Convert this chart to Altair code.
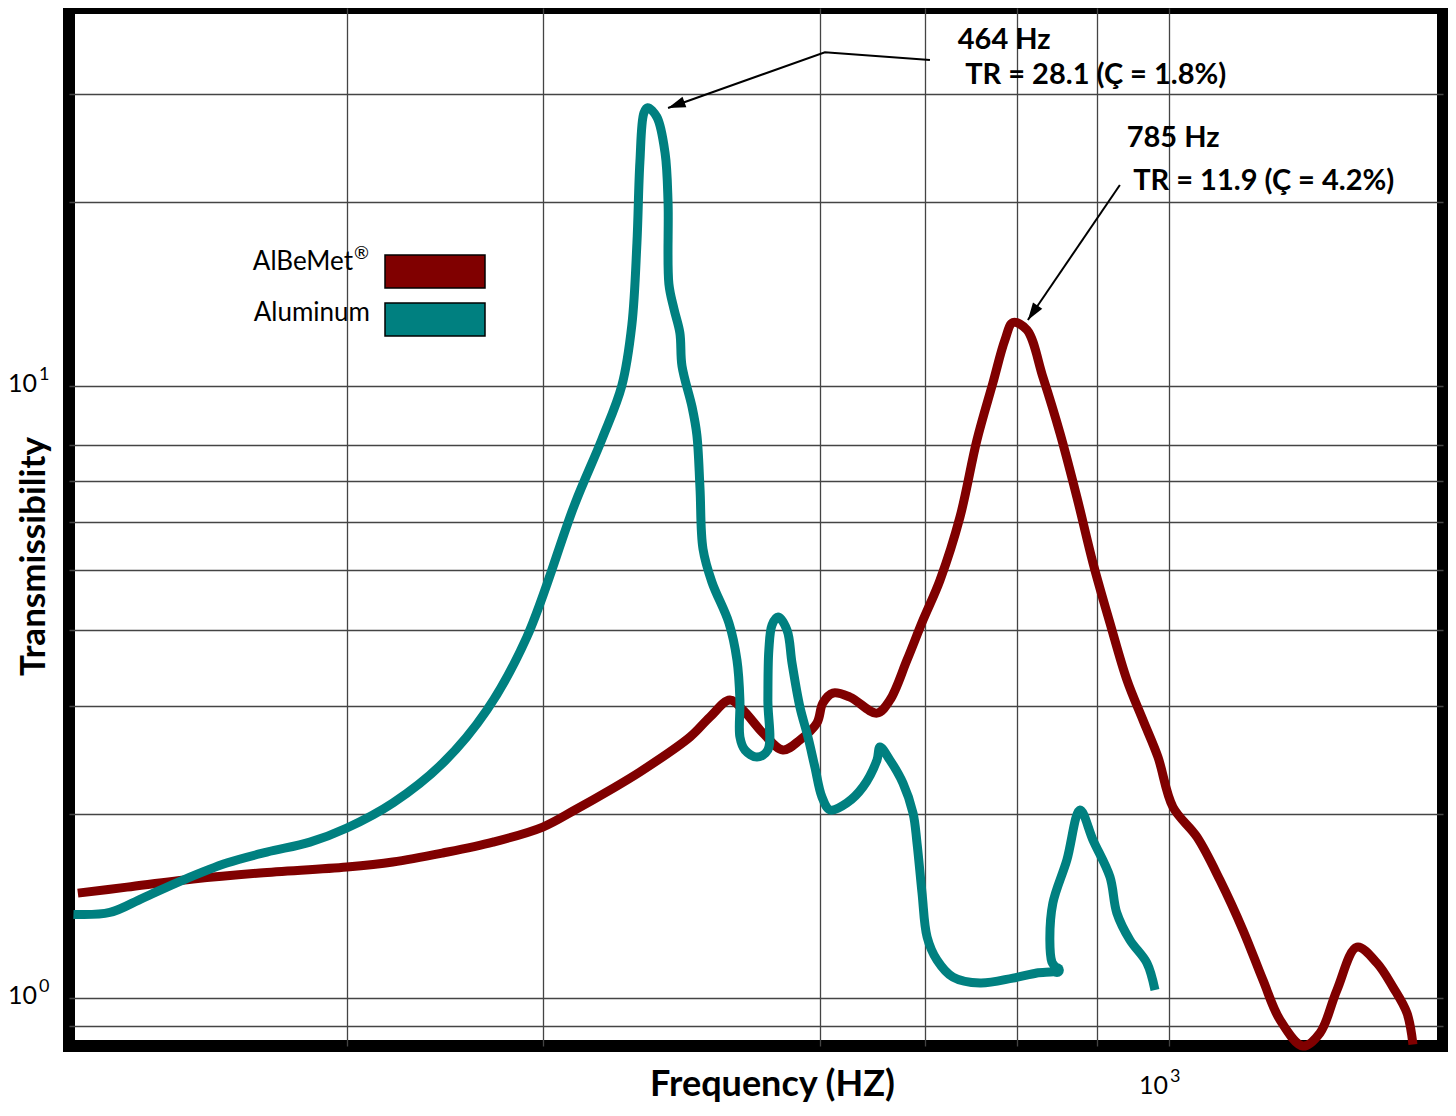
import altair as alt
import pandas as pd

# ---------------- data ----------------
# Aluminum (teal) curve, in drawing order (the curve loops back on itself)
alum_freq = [201, 212, 222.5, 236, 251.6, 266.8, 284.2, 300, 320.9, 345.3, 368.3, 390.5,
             418.9, 435.9, 448.7, 455.4, 458.8, 460.8, 463.5, 466, 472.4, 478.1, 480.2,
             480.8, 484.4, 488.6, 490.1, 497.4, 500.9, 503.2, 505.4, 512.1, 525.0, 531.2,
             533.5, 533.5, 537.4, 547.0, 555.8, 555.8, 556.6, 559.2, 564.1, 571.6, 575.8,
             582.5, 589.4, 595.4, 601.6, 608.7, 623.9, 638.8, 652.1, 655.0, 664.6, 677.4,
             687.5, 691.5, 696.6, 701.8, 712.0, 728.9, 758.3, 795.8, 824.1, 848.8, 842.5,
             840.0, 843.7, 861.2, 877.9, 894.8, 917.3, 926.6, 944.5, 968.3, 979.8]
alum_tr = [1.37, 1.38, 1.457, 1.559, 1.662, 1.732, 1.798, 1.896, 2.083, 2.421, 2.955, 3.89,
           6.415, 8.19, 10.0, 12.58, 17.13, 23.23, 27.93, 28.5, 27.51, 24.03, 19.98,
           14.68, 13.36, 12.21, 10.78, 9.24, 8.32, 6.81, 5.42, 4.78, 4.10, 3.567,
           3.068, 2.670, 2.543, 2.476, 2.543, 3.068, 3.704, 4.07, 4.194, 3.993, 3.527,
           2.989, 2.670, 2.385, 2.131, 2.029, 2.083, 2.212, 2.448, 2.572, 2.448, 2.245,
           2.005, 1.791, 1.484, 1.258, 1.154, 1.082, 1.058, 1.078, 1.099, 1.111, 1.145,
           1.244, 1.429, 1.681, 2.029, 1.812, 1.577, 1.377, 1.244, 1.141, 1.031]
alum_dot_freq = [848.8]
alum_dot_tr = [1.111]

# AlBeMet (dark red) curve
albemet_freq = [202.3, 217.4, 239.5, 264.1, 300, 320.9, 345.3, 371.6, 399.7, 418.9, 441.0,
                460.8, 495.9, 510.6, 525.7, 535.9, 551.8, 568.2, 582.5, 597.2, 602.4, 611.3,
                626.8, 652.1, 664.6, 681.4, 697.6, 715.2, 736.4, 754.9, 772.7, 786.5, 795.8,
                812.3, 831.5, 852.5, 873.9, 894.8, 917.3, 940.4, 962.7, 984.1, 1005.9, 1042.0,
                1077.6, 1114.6, 1147.7, 1176.7, 1216.9, 1247.7, 1279.1, 1317.1, 1356.2,
                1388.4, 1417.2, 1429.7]
albemet_tr = [1.484, 1.518, 1.565, 1.601, 1.637, 1.668, 1.726, 1.798, 1.903, 2.029, 2.187,
              2.341, 2.670, 2.879, 3.068, 2.955, 2.710, 2.543, 2.640, 2.814, 3.034, 3.150,
              3.103, 2.921, 3.068, 3.567, 4.146, 4.819, 6.109, 8.16, 10.11, 11.89, 12.7,
              12.35, 10.34, 8.38, 6.585, 5.138, 4.10, 3.308, 2.846, 2.476, 2.052, 1.833,
              1.559, 1.291, 1.070, 0.921, 0.835, 0.877, 1.031, 1.211, 1.141, 1.042,
              0.945, 0.84]

# grid lines / tick values
x_grid = [300, 400, 600, 700, 800, 900, 1000]
y_grid = [0.9, 1, 2, 3, 4, 5, 6, 7, 8, 10, 20, 30]

# tick labels (base and exponent)
y_label_vals = [1, 10]
y_label_base = ["10", "10"]
y_label_exp = ["0", "1"]
x_label_vals = [1000]
x_label_base = ["10"]
x_label_exp = ["3"]

# annotations
ann_labels = ["464 Hz", "TR = 28.1 (Ç = 1.8%)", "785 Hz", "TR = 11.9 (Ç = 4.2%)"]
ann_freq = [734, 742, 940, 949]
ann_tr = [36.8, 32.2, 25.4, 21.6]

arrow1_freq = [704.7, 604.2, 480.2]
arrow1_tr = [34.1, 35.1, 28.46]
arrow2_freq = [930.7, 813.4]
arrow2_tr = [21.3, 12.82]

legend_labels = ["AlBeMet", "Aluminum"]
legend_marks = ["®", ""]
legend_colors = ["#800000", "#008080"]

# ---------------- chart ----------------
FONT = "Lato"
RED = "#800000"
TEAL = "#008080"
X_DOMAIN = [199.7, 1494]
Y_DOMAIN = [0.835, 41.46]
H = 1038

x_axis = alt.Axis(
    values=x_grid, grid=True, ticks=False, domain=False, labels=False,
    gridColor="#444", gridWidth=1.3,
    title="Frequency (HZ)", titleFont=FONT, titleFontSize=36, titleFontWeight="bold",
    titleColor="black", titleX=703, titleY=49, titleAlign="center",
    titleBaseline="alphabetic",
)
y_axis = alt.Axis(
    values=y_grid, grid=True, ticks=False, domain=False, labels=False,
    gridColor="#444", gridWidth=1.3,
    title="Transmissibility", titleFont=FONT, titleFontSize=35, titleFontWeight="bold",
    titleColor="black", titleX=-36, titleY=548, titleAngle=270, titleAlign="center",
    titleBaseline="middle",
)


def xenc():
    return alt.X("freq:Q", scale=alt.Scale(type="log", domain=X_DOMAIN, nice=False), axis=x_axis)


def yenc():
    return alt.Y("tr:Q", scale=alt.Scale(type="log", domain=Y_DOMAIN, nice=False), axis=y_axis)


red_df = pd.DataFrame({"freq": albemet_freq, "tr": albemet_tr, "idx": range(len(albemet_freq))})
teal_df = pd.DataFrame({"freq": alum_freq, "tr": alum_tr, "idx": range(len(alum_freq))})
dot_df = pd.DataFrame({"freq": alum_dot_freq, "tr": alum_dot_tr})
ann_df = pd.DataFrame({"freq": ann_freq, "tr": ann_tr, "label": ann_labels})
arrow_df = pd.DataFrame({
    "freq": arrow1_freq + arrow2_freq,
    "tr": arrow1_tr + arrow2_tr,
    "arrow": ["a1"] * len(arrow1_freq) + ["a2"] * len(arrow2_freq),
    "idx": list(range(len(arrow1_freq))) + list(range(len(arrow2_freq))),
})
tip1_df = pd.DataFrame({"freq": [arrow1_freq[-1]], "tr": [arrow1_tr[-1]]})
tip2_df = pd.DataFrame({"freq": [arrow2_freq[-1]], "tr": [arrow2_tr[-1]]})
ylab_df = pd.DataFrame({"tr": y_label_vals, "base": y_label_base, "exp": y_label_exp})
xlab_df = pd.DataFrame({"freq": x_label_vals, "base": x_label_base, "exp": x_label_exp})

red = alt.Chart(red_df).mark_line(
    color=RED, strokeWidth=9, interpolate="catmull-rom", strokeCap="butt", strokeJoin="round"
).encode(x=xenc(), y=yenc(), order="idx:Q")

teal = alt.Chart(teal_df).mark_line(
    color=TEAL, strokeWidth=9, interpolate="catmull-rom", strokeCap="butt", strokeJoin="round"
).encode(x=xenc(), y=yenc(), order="idx:Q")

dot = alt.Chart(dot_df).mark_point(
    shape="circle", filled=True, size=190, color=TEAL, opacity=1
).encode(x=xenc(), y=yenc())

arrows = alt.Chart(arrow_df).mark_line(color="black", strokeWidth=2).encode(
    x=xenc(), y=yenc(), detail="arrow:N", order="idx:Q"
)
HEAD = "M0,0L-0.45,1.4L0.45,1.4Z"
tip1 = alt.Chart(tip1_df).mark_point(
    shape=HEAD, filled=True, size=620, angle=250, color="black", opacity=1, strokeWidth=0
).encode(x=xenc(), y=yenc())
tip2 = alt.Chart(tip2_df).mark_point(
    shape=HEAD, filled=True, size=620, angle=214, color="black", opacity=1, strokeWidth=0
).encode(x=xenc(), y=yenc())

texts = alt.Chart(ann_df).mark_text(
    align="left", baseline="middle", font=FONT, fontWeight="bold", fontSize=29, color="black"
).encode(x=xenc(), y=yenc(), text="label:N")

# tick labels with raised exponents
ylab_base = alt.Chart(ylab_df).mark_text(
    align="right", baseline="middle", font=FONT, fontSize=25, color="black", dy=-2
).encode(x=alt.value(-32), y=yenc(), text="base:N")
ylab_exp = alt.Chart(ylab_df).mark_text(
    align="left", baseline="middle", font=FONT, fontSize=18, color="black", dy=-11
).encode(x=alt.value(-30), y=yenc(), text="exp:N")
xlab_base = alt.Chart(xlab_df).mark_text(
    align="right", baseline="middle", font=FONT, fontSize=25, color="black", dx=-1
).encode(x=xenc(), y=alt.value(H + 40), text="base:N")
xlab_exp = alt.Chart(xlab_df).mark_text(
    align="left", baseline="middle", font=FONT, fontSize=18, color="black", dx=1
).encode(x=xenc(), y=alt.value(H + 31), text="exp:N")

legend_layers = []
rect_top = [247, 295]
text_mid = [254, 305]
for lab, sup, col, rt, tm in zip(legend_labels, legend_marks, legend_colors, rect_top, text_mid):
    legend_layers.append(
        alt.Chart(alt.Data(values=[{}])).mark_rect(color=col, stroke="black", strokeWidth=1.5, opacity=1).encode(
            x=alt.value(316), x2=alt.value(416), y=alt.value(rt), y2=alt.value(rt + 33)
        )
    )
    right = 301 if not sup else 284
    legend_layers.append(
        alt.Chart(alt.Data(values=[{}])).mark_text(
            align="right", baseline="middle", font=FONT, fontSize=26, color="black"
        ).encode(x=alt.value(right), y=alt.value(tm), text=alt.value(lab))
    )
    if sup:
        legend_layers.append(
            alt.Chart(alt.Data(values=[{}])).mark_text(
                align="left", baseline="middle", font=FONT, fontSize=18, color="black"
            ).encode(x=alt.value(right + 1), y=alt.value(tm - 8), text=alt.value(sup))
        )

chart = alt.layer(
    red, teal, dot, arrows, tip1, tip2, texts,
    ylab_base, ylab_exp, xlab_base, xlab_exp, *legend_layers
).properties(
    width=1374, height=H,
    autosize=alt.AutoSizeParams(type="none"),
    padding={"left": 61, "top": 0, "right": 5, "bottom": 56},
    background="white",
).configure_view(stroke="black", strokeWidth=12)

chart.save("out.html", embed_options={"renderer": "svg", "actions": False})
